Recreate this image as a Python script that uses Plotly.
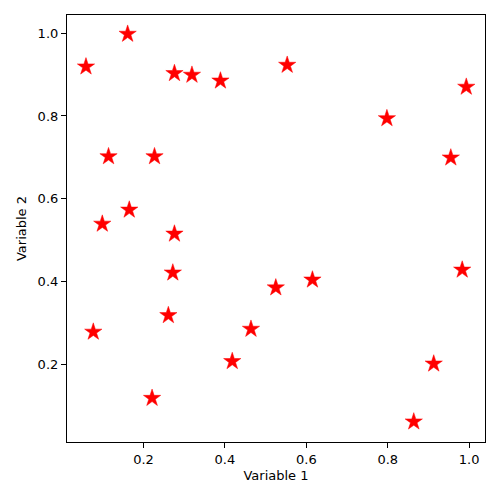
import plotly.graph_objects as go

var1 = [0.0586, 0.161, 0.276, 0.319, 0.389, 0.114, 0.227, 0.165, 0.0987,
        0.553, 0.993, 0.798, 0.955,
        0.276, 0.272, 0.525, 0.261, 0.0766, 0.464, 0.418, 0.221,
        0.615, 0.983, 0.913, 0.864]
var2 = [0.919, 0.998, 0.903, 0.899, 0.885, 0.702, 0.702, 0.573, 0.539,
        0.923, 0.870, 0.794, 0.699,
        0.515, 0.421, 0.385, 0.318, 0.278, 0.285, 0.207, 0.118,
        0.404, 0.428, 0.201, 0.061]

fig = go.Figure(go.Scatter(
    x=var1, y=var2, mode="markers",
    marker=dict(symbol="star", size=13, color="red", line=dict(width=0.5, color="red")),
))

font = dict(family="DejaVu Sans", size=13, color="black")
axis_common = dict(
    showgrid=False, zeroline=False, showline=True, mirror=True,
    linecolor="black", linewidth=1.2, ticks="outside", ticklen=5,
    tickcolor="black", tickfont=font, tickformat=".1f", automargin=False,
)
fig.update_layout(
    width=500, height=500,
    margin=dict(l=59, r=23, t=7, b=66, autoexpand=False),
    plot_bgcolor="white", paper_bgcolor="white",
    showlegend=False, font=font,
    xaxis=dict(range=[0.012, 1.039], tickvals=[0.2, 0.4, 0.6, 0.8, 1.0],
               title=dict(text="Variable 1", font=font, standoff=5), **axis_common),
    yaxis=dict(range=[0.012, 1.044], tickvals=[0.2, 0.4, 0.6, 0.8, 1.0],
               title=dict(text="Variable 2", font=font, standoff=8), **axis_common),
)
fig.write_html("out.html")
